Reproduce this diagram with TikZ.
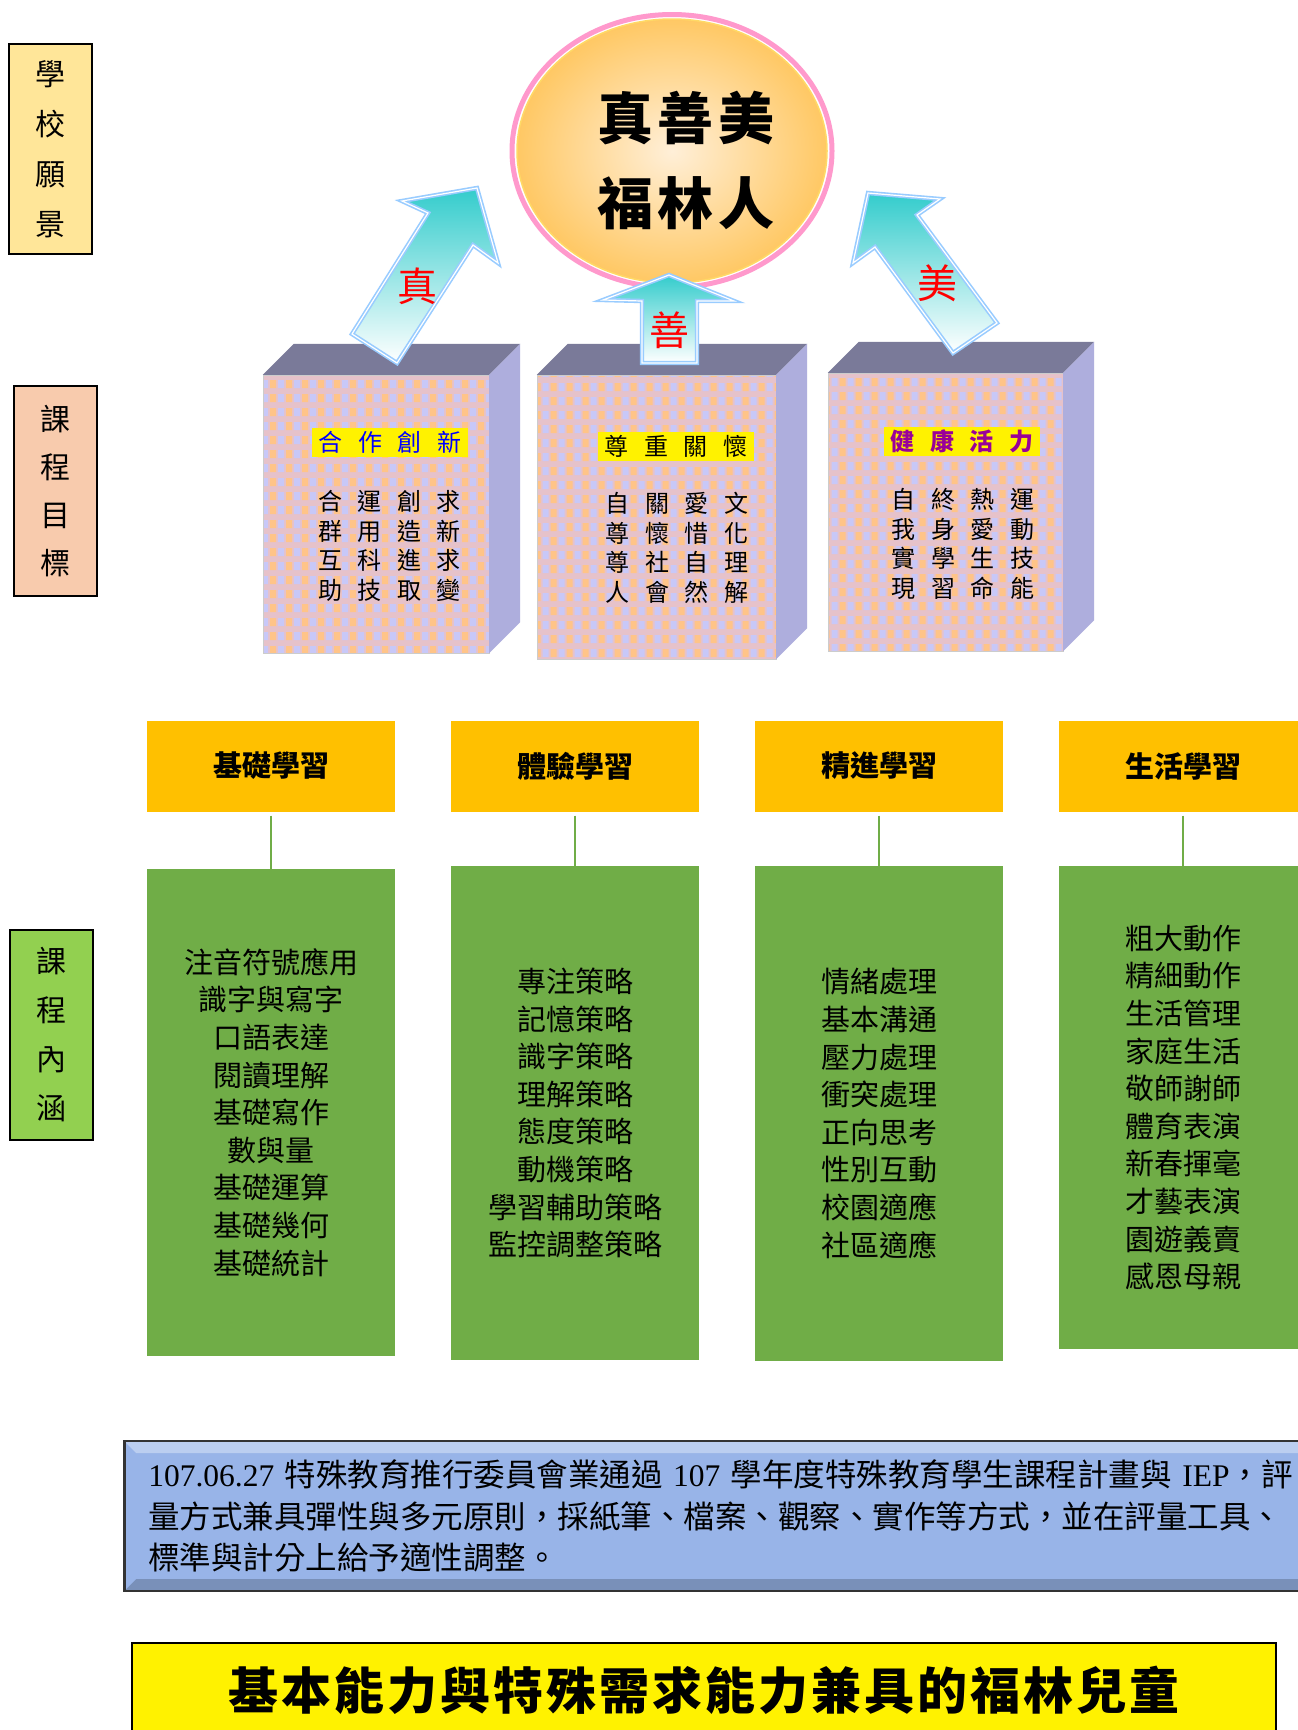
\documentclass[tikz,border=0pt]{standalone}
\usepackage{fontspec}
\setmainfont{Noto Sans CJK TC}
\newfontfamily\timesfont{Liberation Serif}
\usepackage{xcolor}
\usepackage{tikz}
\usetikzlibrary{shapes.geometric, positioning, calc}

\definecolor{visionpink}{HTML}{FF99CC}
\definecolor{visionrim}{HTML}{FFD966}
\definecolor{visionlight}{HTML}{FFEFD8}
\definecolor{visionorange}{HTML}{FFC864}
\definecolor{arrowteal}{HTML}{33CCCC}
\definecolor{arrowedge}{HTML}{99CCFF}
\definecolor{facebg}{HTML}{E6C2CA}
\definecolor{faceorange}{HTML}{FFC488}
\definecolor{facelavender}{HTML}{C8C8F8}
\definecolor{facetop}{HTML}{7A7A99}
\definecolor{faceside}{HTML}{AEAEDD}
\definecolor{headorange}{HTML}{FFC000}
\definecolor{listgreen}{HTML}{70AD47}
\definecolor{noteblue}{HTML}{98B4E8}
\definecolor{titlepurple}{HTML}{990099}
\definecolor{visionfill}{HTML}{FFE699}
\definecolor{goalfill}{HTML}{F8CBAD}
\definecolor{contentfill}{HTML}{92D050}

\newcommand{\gp}{\hspace{15.5pt}}

\begin{document}
\begin{tikzpicture}[x=1pt,y=-1pt,
    side label/.style={draw=black,line width=2pt,minimum width=83pt,minimum height=210pt,inner sep=0pt,align=center},
    goal face/.style={fill=facebg,draw=black!20,inner sep=0pt,path picture={
        \fill[faceorange] \foreach \i in {0,...,15} {\foreach \j in {0,...,21} {(16*\i-122,14*\j-148) rectangle ++(6,8)}};
        \fill[facelavender] \foreach \i in {0,...,15} {\foreach \j in {0,...,21} {(16*\i-114,14*\j-148) rectangle ++(6,8)}};}},
    top face/.style={fill=facetop},
    side face/.style={fill=faceside},
    big arrow/.style={top color=arrowteal,bottom color=white,draw=arrowedge,line width=1.6pt,double=white,double distance=1.2pt},
    arrow word/.style={text=red,font=\fontsize{40pt}{40pt}\selectfont},
    goal title/.style={fill=yellow,inner sep=0pt,minimum width=156pt,minimum height=29pt,font=\fontsize{24pt}{24pt}\selectfont},
    goal text/.style={align=center,font=\fontsize{24pt}{29.5pt}\selectfont},
    head/.style={fill=headorange,minimum width=248pt,minimum height=91pt,inner sep=0pt,font=\fontsize{29pt}{29pt}\selectfont\bfseries},
    list/.style={fill=listgreen,minimum width=248pt,inner sep=0pt,align=center,font=\fontsize{29pt}{37.6pt}\selectfont},
    stem/.style={draw=listgreen,line width=2.5pt,shorten <=4pt},
    note/.style={fill=noteblue,draw=black!80,line width=2.5pt,text width=1165pt,inner xsep=24pt,minimum height=150pt,align=left,
      font=\fontsize{31.5pt}{41.5pt}\selectfont,path picture={
      \fill[white,opacity=.35] (path picture bounding box.north west) -- (path picture bounding box.north east) -- ++(-12,12) -- ([shift={(12,12)}]path picture bounding box.north west) -- cycle;
      \fill[black,opacity=.2] (path picture bounding box.south west) -- (path picture bounding box.south east) -- ++(-12,-12) -- ([shift={(12,-12)}]path picture bounding box.south west) -- cycle;}}]

 \useasboundingbox[fill=white] (0,0) rectangle (1298,1730);

 \node[side label,fill=visionfill,font=\fontsize{30pt}{50pt}\selectfont] (vision label) at (50.5,149) {學\\校\\願\\景};

 \node[side label,fill=goalfill,font=\fontsize{30pt}{48pt}\selectfont] (goal label) at (55.5,491) {課\\程\\目\\標};

 \node[side label,fill=contentfill,font=\fontsize{30pt}{49pt}\selectfont] (content label) at (51.5,1034.5) {課\\程\\內\\涵};

 \node[ellipse,minimum width=310pt,minimum height=264pt,inner color=visionlight,outer color=visionorange,draw=visionrim,line width=1.5pt] (vision) at (672,151) {};
 \draw[visionpink,line width=5pt] (vision.center) ellipse [x radius=160,y radius=136.5];

 \node[align=center,font=\fontsize{56pt}{85pt}\selectfont\bfseries\addfontfeatures{LetterSpace=8}] (motto) at (686,160.5) {真善美\\福林人};

 \node[goal face,minimum width=226pt,minimum height=278pt] (goal1) at (376,514) {};

 \node[goal face,minimum width=239pt,minimum height=284pt] (goal2) at (656.5,517) {};

 \node[goal face,minimum width=235pt,minimum height=278pt] (goal3) at (945.5,512) {};

 \foreach \g in {goal1,goal2,goal3} {
   \fill[top face] (\g.north west) -- ++(31,-31) -- ([shift={(31,-31)}]\g.north east) -- (\g.north east) -- cycle;
   \fill[side face] (\g.north east) -- ++(31,-31) -- ([shift={(31,-31)}]\g.south east) -- (\g.south east) -- cycle;
 }

 \draw[big arrow] (352,334) -- (428,213) -- (402,201) -- (477,188) -- (498,263) -- (473,245) -- (397,363) -- cycle;
 \draw[big arrow] (642,363) -- (642,301) -- (603,300) -- (669,275) -- (734,301) -- (697,301) -- (697,363) -- cycle;
 \draw[big arrow] (953,353) -- (875,247) -- (853,263) -- (868,193) -- (940,199) -- (917,215) -- (997,323) -- cycle;

 \node[arrow word] (truth) at (417,286) {真};
 \node[arrow word] (goodness) at (669,330) {善};
 \node[arrow word] (beauty) at (937,283) {美};

 \node[goal title,text=blue] (title1) at (390,442) {合\gp 作\gp 創\gp 新};
 \node[goal text] (text1) at (389.5,546) {合\gp 運\gp 創\gp 求\\群\gp 用\gp 造\gp 新\\互\gp 科\gp 進\gp 求\\助\gp 技\gp 取\gp 變};

 \node[goal title] (title2) at (676,446) {尊\gp 重\gp 關\gp 懷};
 \node[goal text] (text2) at (677,548) {自\gp 關\gp 愛\gp 文\\尊\gp 懷\gp 惜\gp 化\\尊\gp 社\gp 自\gp 理\\人\gp 會\gp 然\gp 解};

 \node[goal title,text=titlepurple,font=\fontsize{24pt}{24pt}\selectfont\bfseries] (title3) at (962,441) {健\gp 康\gp 活\gp 力};
 \node[goal text] (text3) at (963,544) {自\gp 終\gp 熱\gp 運\\我\gp 身\gp 愛\gp 動\\實\gp 學\gp 生\gp 技\\現\gp 習\gp 命\gp 能};

 \node[head] (basic) at (271,766) {基礎學習};
 \node[head] (experience) at (575,766) {體驗學習};
 \node[head] (advance) at (879,766) {精進學習};
 \node[head] (life) at (1183,766) {生活學習};

 \node[list,minimum height=487pt] (basic list) at (271,1112.5) {注音符號應用\\識字與寫字\\口語表達\\閱讀理解\\基礎寫作\\數與量\\基礎運算\\基礎幾何\\基礎統計};
 \node[list,minimum height=494pt] (experience list) at (575,1113) {專注策略\\記憶策略\\識字策略\\理解策略\\態度策略\\動機策略\\學習輔助策略\\監控調整策略};
 \node[list,minimum height=495pt] (advance list) at (879,1113.5) {情緒處理\\基本溝通\\壓力處理\\衝突處理\\正向思考\\性別互動\\校園適應\\社區適應};
 \node[list,minimum height=483pt] (life list) at (1183,1107.5) {粗大動作\\精細動作\\生活管理\\家庭生活\\敬師謝師\\體育表演\\新春揮毫\\才藝表演\\園遊義賣\\感恩母親};

 \path[stem]
   (basic) edge (basic list)
   (experience) edge (experience list)
   (advance) edge (advance list)
   (life) edge (life list);

 \node[note,anchor=west] (note) at (123,1516) {{\timesfont 107.06.27} 特殊教育推行委員會業通過 {\timesfont 107} 學年度特殊教育學生課程計畫與 {\timesfont IEP}，評\\量方式兼具彈性與多元原則，採紙筆、檔案、觀察、實作等方式，並在評量工具、\\標準與計分上給予適性調整。};

 \node[fill=yellow,draw=black,line width=2pt,minimum width=1144pt,minimum height=94pt,font=\fontsize{50pt}{50pt}\selectfont\bfseries\addfontfeatures{LetterSpace=6}] (summary) at (704,1690) {基本能力與特殊需求能力兼具的福林兒童};

\end{tikzpicture}
\end{document}
